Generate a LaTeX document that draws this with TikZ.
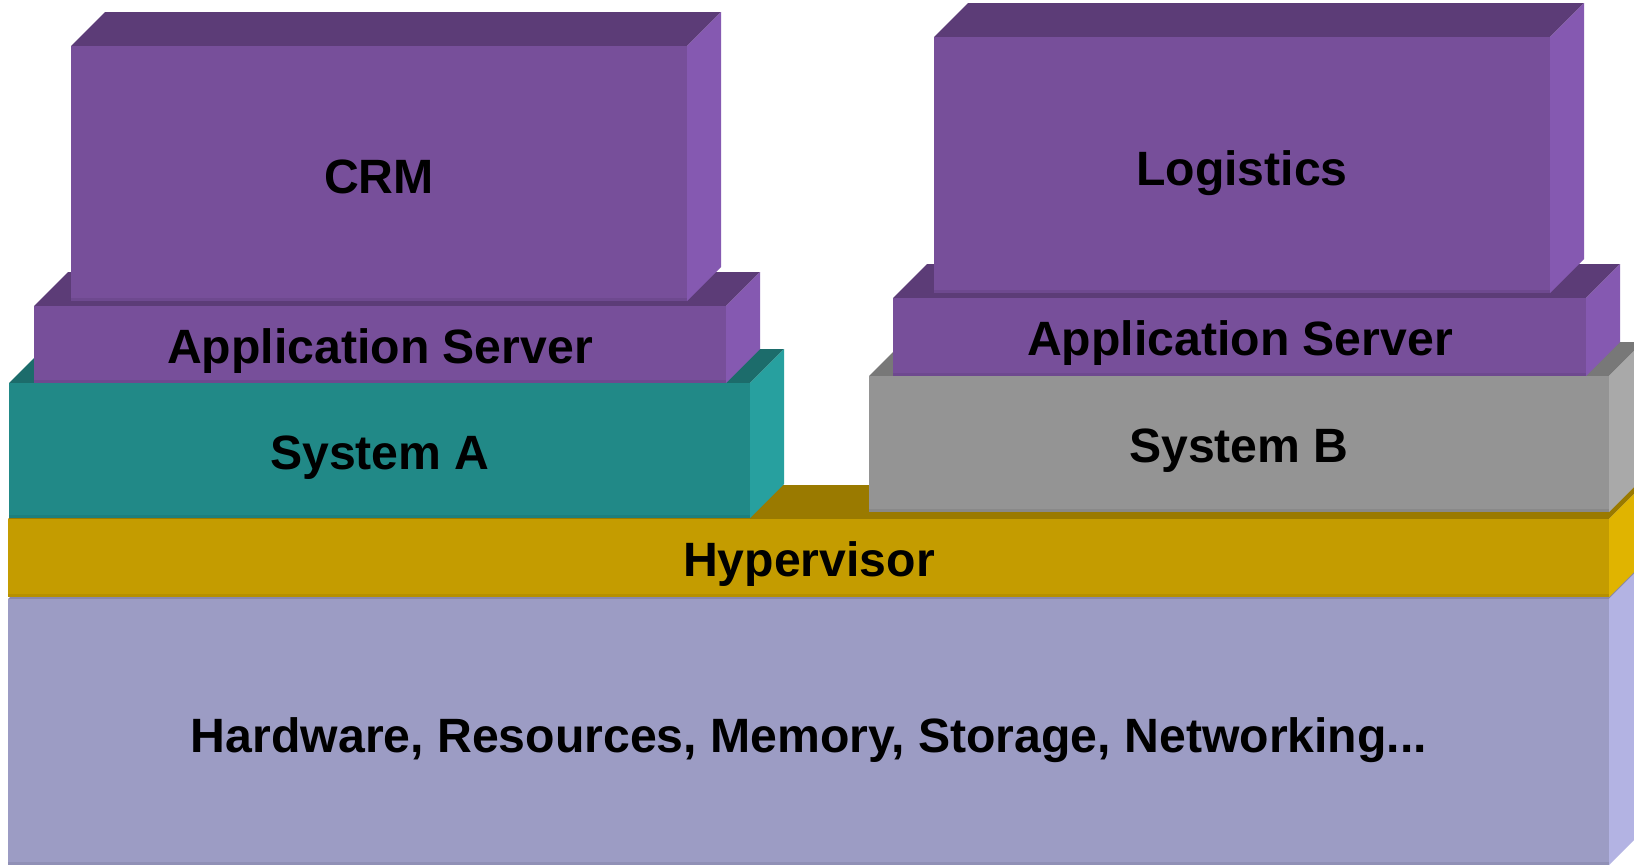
\documentclass[tikz,border=0pt]{standalone}
\usepackage{fontspec}
\setmainfont{Liberation Sans}
\definecolor{pF}{HTML}{774F9A}
\definecolor{pT}{HTML}{5C3C77}
\definecolor{pR}{HTML}{8559B1}
\definecolor{tF}{HTML}{218987}
\definecolor{tT}{HTML}{1C6C6B}
\definecolor{tR}{HTML}{27A09F}
\definecolor{gF}{HTML}{949494}
\definecolor{gT}{HTML}{787878}
\definecolor{gR}{HTML}{A9A9A9}
\definecolor{yF}{HTML}{C49C00}
\definecolor{yT}{HTML}{9A7A00}
\definecolor{yR}{HTML}{E0B400}
\definecolor{lF}{HTML}{9C9CC4}
\definecolor{lT}{HTML}{8888AD}
\definecolor{lR}{HTML}{B3B3E3}
% #1 left, #2 top, #3 right, #4 bottom, #5 front, #6 top face, #7 side face
\newcommand{\myslab}[7]{%
  \fill[#6] (#1,#2) -- ++(34,-34) -- ++({#3-(#1)},0) -- ++(-34,34) -- cycle;
  \fill[#7] (#3,#2) -- ++(34,-34) -- ++(0,{#4-(#2)}) -- ++(-34,34) -- cycle;
  \fill[#5] (#1,#2) rectangle (#3,#4);
  \fill[black,opacity=0.07] (#1,{#4-3}) rectangle (#3,#4);
}
\begin{document}
\begin{tikzpicture}[x=0.01cm,y=-0.01cm,
  lbl/.style={font=\fontsize{13.7}{16}\selectfont\bfseries, anchor=base, inner sep=0pt, text=black}]
\useasboundingbox (0,0) rectangle (1634,866);
\fill[white] (0,0) rectangle (1634,866);
\clip (0,0) rectangle (1634,866);
% hardware
\myslab{8}{599}{1609}{865}{lF}{lT}{lR}
% hypervisor
\myslab{8}{519}{1609}{597}{yF}{yT}{yR}
% systems
\myslab{9}{383}{750}{518}{tF}{tT}{tR}
\myslab{869}{376}{1609}{512}{gF}{gT}{gR}
% application servers
\myslab{34}{306}{726}{383}{pF}{pT}{pR}
\myslab{893}{298}{1586}{376}{pF}{pT}{pR}
% applications
\myslab{71}{46}{687}{301}{pF}{pT}{pR}
\myslab{934}{37}{1550}{293}{pF}{pT}{pR}
% labels
\node[lbl] (crm) at (379,193) {CRM};
\node[lbl] (logistics) at (1242,185) {Logistics};
\node[lbl] (appa) at (380,363) {Application Server};
\node[lbl] (appb) at (1240,355) {Application Server};
\node[lbl] (sysa) at (380,469) {System A};
\node[lbl] (sysb) at (1239,462) {System B};
\node[lbl] (hyp) at (809,576) {Hypervisor};
\node[lbl] (hw) at (809,752) {Hardware, Resources, Memory, Storage, Networking...};
\end{tikzpicture}
\end{document}
